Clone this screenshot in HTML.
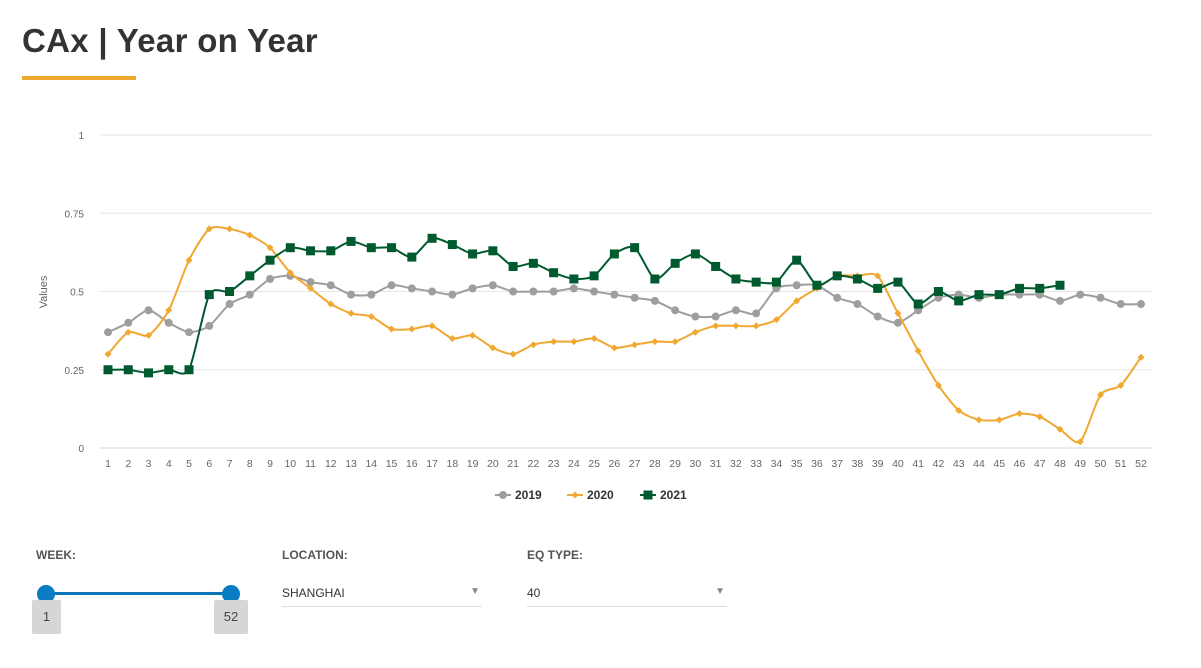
<!DOCTYPE html>
<html><head><meta charset="utf-8"><style>
body{margin:0;width:1201px;height:668px;background:#fff;font-family:"Liberation Sans",sans-serif;position:relative;overflow:hidden}
.title{position:absolute;left:22px;top:22px;font-size:33px;font-weight:bold;color:#333;letter-spacing:0.3px}
.uline{position:absolute;left:22px;top:76px;width:114px;height:4px;background:#f0a830}
.lbl{position:absolute;top:548px;font-size:12px;font-weight:bold;color:#555}
.sel{position:absolute;top:586px;width:200px;height:20px;border-bottom:1px solid #ddd;font-size:12px;color:#333}
.sel span{position:absolute;right:2px;top:0px;font-size:10px;color:#888}
.tip{position:absolute;top:600px;width:34px;height:34px;background:#d6d6d6;border-radius:2px;font-size:13px;color:#444;text-align:center;line-height:34px}
</style></head><body>
<div class="title">CAx | Year on Year</div>
<div class="uline"></div>
<svg id="chart" width="1201" height="520" style="position:absolute;left:0;top:0"></svg>
<div class="lbl" style="left:36px">WEEK:</div>
<div style="position:absolute;left:46px;top:592px;width:186px;height:3px;background:#0a74b8"></div>
<div style="position:absolute;left:37px;top:585px;width:18px;height:18px;border-radius:50%;background:#0a7cc2"></div>
<div style="position:absolute;left:222px;top:585px;width:18px;height:18px;border-radius:50%;background:#0a7cc2"></div>
<div class="tip" style="left:32px;width:29px">1</div>
<div class="tip" style="left:214px">52</div>
<div class="lbl" style="left:282px">LOCATION:</div>
<div class="sel" style="left:282px">SHANGHAI<span>▼</span></div>
<div class="lbl" style="left:527px">EQ TYPE:</div>
<div class="sel" style="left:527px">40<span>▼</span></div>
<script>
const weeks=Array.from({length:52},(_,i)=>i+1);
const yTicks=[0,0.25,0.5,0.75,1];
const yTickLabels=["0","0.25","0.5","0.75","1"];
const s2019=[.37,.40,.44,.40,.37,.39,.46,.49,.54,.55,.53,.52,.49,.49,.52,.51,.50,.49,.51,.52,.50,.50,.50,.51,.50,.49,.48,.47,.44,.42,.42,.44,.43,.51,.52,.52,.48,.46,.42,.40,.44,.48,.49,.48,.49,.49,.49,.47,.49,.48,.46,.46];
const s2020=[.30,.37,.36,.44,.60,.70,.70,.68,.64,.56,.51,.46,.43,.42,.38,.38,.39,.35,.36,.32,.30,.33,.34,.34,.35,.32,.33,.34,.34,.37,.39,.39,.39,.41,.47,.51,.55,.55,.55,.43,.31,.20,.12,.09,.09,.11,.10,.06,.02,.17,.20,.29];
const s2021=[.25,.25,.24,.25,.25,.49,.50,.55,.60,.64,.63,.63,.66,.64,.64,.61,.67,.65,.62,.63,.58,.59,.56,.54,.55,.62,.64,.54,.59,.62,.58,.54,.53,.53,.60,.52,.55,.54,.51,.53,.46,.50,.47,.49,.49,.51,.51,.52];
const X0=108,X1=1141,Y0=448,Y1=135;
const x=w=>X0+(w-1)*(X1-X0)/51, y=v=>Y0-v*(Y0-Y1);
const svg=document.getElementById('chart'),NS='http://www.w3.org/2000/svg';
function mk(t,a,p){const e=document.createElementNS(NS,t);for(const k in a)e.setAttribute(k,a[k]);(p||svg).appendChild(e);return e;}
yTicks.forEach((t,i)=>{
 const g=mk('line',{x1:100,x2:1152,y1:y(t),y2:y(t),stroke:i==0?'#ccd6eb':'#e6e6e6','stroke-width':1});
 
 const l=mk('text',{x:84,y:y(t)+4,'text-anchor':'end','font-size':10,fill:'#666'});l.textContent=yTickLabels[i];
 
});
const yt=mk('text',{x:47,y:292,'text-anchor':'middle','font-size':11,fill:'#666',transform:'rotate(-90 47 292)'});yt.textContent='Values';

weeks.forEach(w=>{const t=mk('text',{x:x(w),y:467,'text-anchor':'middle','font-size':10.5,fill:'#666'});t.textContent=w;
 });
function path(vals){const p=vals.map((v,i)=>[x(i+1),y(v)]);let d='M'+p[0];const k=0.12;
 for(let i=0;i<p.length-1;i++){const a=p[i-1]||p[i],b=p[i],c=p[i+1],e=p[i+2]||c;
 d+=` C${b[0]+(c[0]-a[0])*k},${b[1]+(c[1]-a[1])*k} ${c[0]-(e[0]-b[0])*k},${c[1]-(e[1]-b[1])*k} ${c[0]},${c[1]}`;}return d;}
function marker(type,cx,cy,col,g){
 if(type=='circle')return mk('circle',{cx,cy,r:4,fill:col},g);
 if(type=='diamond')return mk('path',{d:`M${cx},${cy-3.5}L${cx+3.5},${cy}L${cx},${cy+3.5}L${cx-3.5},${cy}Z`,fill:col},g);
 return mk('rect',{x:cx-4.5,y:cy-4.5,width:9,height:9,fill:col},g);}
const series=[[s2019,'#9e9e9e','circle','2019'],[s2020,'#f0a830','diamond','2020'],[s2021,'#005a2f','square','2021']];
series.forEach(([vals,col,type,name])=>{
 const g=mk('g',{});
 mk('path',{d:path(vals),fill:'none',stroke:col,'stroke-width':2},g);
 vals.forEach((v,i)=>{const m=marker(type,x(i+1),y(v),col,g);});
});
const lx=[495,567,640];
series.forEach(([vals,col,type,name],i)=>{
 const g=mk('g',{});
 mk('line',{x1:lx[i],x2:lx[i]+16,y1:495,y2:495,stroke:col,'stroke-width':2},g);
 marker(type,lx[i]+8,495,col,g);
 const t=mk('text',{x:lx[i]+20,y:499,'font-size':12,'font-weight':'bold',fill:'#333'},g);t.textContent=name;
});
</script>
</body></html>
